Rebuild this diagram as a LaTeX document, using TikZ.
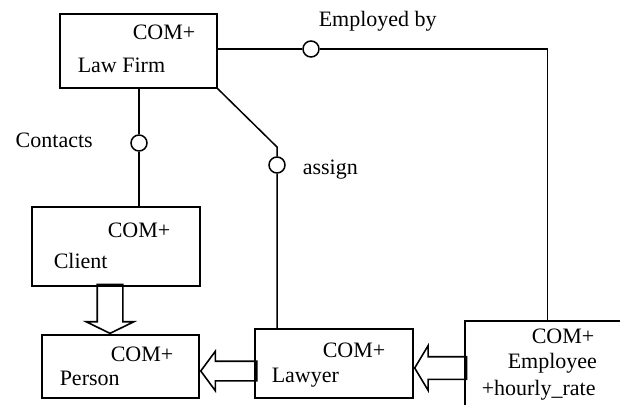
\documentclass[tikz,border=0pt]{standalone}
\usepackage{fontspec}
\setmainfont{Liberation Serif}
\usetikzlibrary{shapes.arrows}

\begin{document}
\begin{tikzpicture}[x=1pt,y=-1pt,line width=1.5pt,
  box/.style={draw,rectangle,inner sep=0pt},
  ball/.style={draw,circle,fill=white,minimum size=16pt,inner sep=0pt},
  txt/.style={anchor=base west,inner sep=0pt,font=\fontsize{22}{26}\selectfont},
  inherit/.style={draw,single arrow,anchor=tip,inner xsep=0pt,line width=1.6pt}]
\clip (0,0) rectangle (620,404);
\useasboundingbox (0,0) rectangle (620,404);
% classes
\node [box,minimum width=157pt,minimum height=74pt] (law) at (138.5,51) {};
\node [box,minimum width=168pt,minimum height=79pt] (client) at (116,246.5) {};
\node [box,minimum width=157pt,minimum height=63pt] (person) at (120.5,366.5) {};
\node [box,minimum width=158pt,minimum height=69pt] (lawyer) at (334,363.5) {};
\node [box,minimum width=165pt,minimum height=99pt] (emp) at (547.5,370.5) {};
\node [txt] (lawCom) at (132,40) {COM+};
\node [txt] (lawName) at (77,72) {Law Firm};
\node [txt] (clientCom) at (107,237) {COM+};
\node [txt] (clientName) at (53,268) {Client};
\node [txt] (personCom) at (110,361) {COM+};
\node [txt] (personName) at (59,385) {Person};
\node [txt] (lawyerCom) at (322,357) {COM+};
\node [txt] (lawyerName) at (271,382) {Lawyer};
\node [txt] (empCom) at (531,343) {COM+};
\node [txt] (empName) at (507,368) {Employee};
\node [txt] (empRate) at (481,395) {+hourly\_rate};
% associations
\node [ball] (cEmp) at (311,49) {};
\node [ball] (cCon) at (139,143) {};
\node [ball] (cAsg) at (277,165) {};
\coordinate (bend) at (277,147);
\draw (law.east |- cEmp) -- (cEmp);
\draw (cEmp) -- (cEmp -| emp.north) -- (emp.north);
\draw (law.south -| cCon) -- (cCon) -- (cCon |- client.north);
\draw (law.south east) -- (bend) -- (cAsg) -- (cAsg |- lawyer.north);
\node [txt] (lblEmp) at (318,27) {Employed by};
\node [txt] (lblCon) at (15,147) {Contacts};
\node [txt] (lblAsg) at (302,174) {assign};
% inheritance
\node [inherit,rotate=-90,inner ysep=12pt,minimum height=49pt,minimum width=46pt,
  single arrow head extend=11pt,single arrow tip angle=128] (inhClient) at (110,0 |- person.north) {};
\node [inherit,rotate=180,inner ysep=9pt,minimum height=56pt,minimum width=38pt,
  single arrow head extend=10pt,single arrow tip angle=107] (inhLawyer) at (person.east |- 0,371) {};
\node [inherit,rotate=180,inner ysep=10.5pt,minimum height=52pt,minimum width=43pt,
  single arrow head extend=11pt,single arrow tip angle=118] (inhEmp) at (lawyer.east |- 0,368) {};
\end{tikzpicture}
\end{document}
